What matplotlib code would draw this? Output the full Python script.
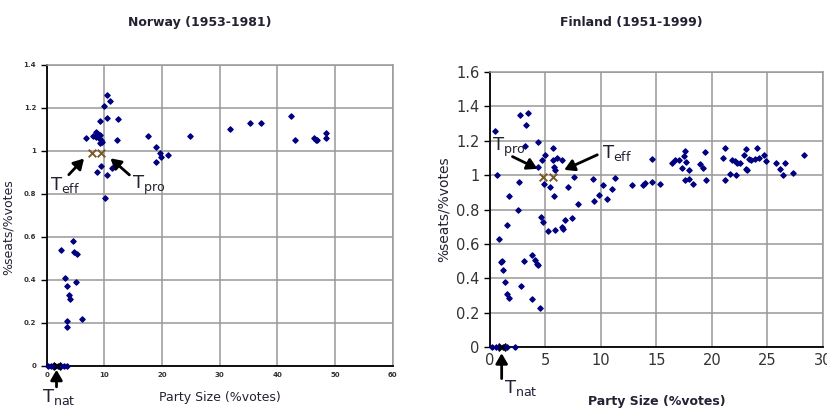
import numpy as np
import matplotlib
matplotlib.use('Agg')
import matplotlib.pyplot as plt

# Norway (1953-1981): party size (%votes) vs %seats/%votes
nor_x = [10.5, 11.0, 9.9, 10.4, 12.4, 9.2, 6.8, 8.0, 8.6, 8.9, 8.7, 9.0, 8.5, 9.2, 9.4,
         9.2, 9.6, 12.2, 17.6, 18.9, 19.6, 19.9, 21.1, 19.0, 24.8, 31.7, 35.3, 37.2,
         42.4, 43.0, 46.3, 46.6, 46.9, 48.4, 48.4, 8.7, 9.5, 10.5, 11.3, 10.1,
         2.4, 4.5, 4.7, 5.2, 3.2, 3.6, 5.1, 3.9, 4.0, 3.5, 3.5, 6.1,
         0.3, 0.7, 1.1, 1.5, 2.0, 2.5, 3.0, 3.5]
nor_y = [1.26, 1.23, 1.21, 1.155, 1.15, 1.14, 1.06, 1.07, 1.09, 1.08, 1.07, 1.06, 1.065, 1.075, 1.05,
         1.035, 1.04, 1.05, 1.07, 1.02, 0.99, 0.97, 0.98, 0.95, 1.07, 1.10, 1.13, 1.13,
         1.16, 1.05, 1.06, 1.05, 1.05, 1.085, 1.06, 0.90, 0.93, 0.89, 0.92, 0.78,
         0.54, 0.58, 0.53, 0.52, 0.41, 0.37, 0.39, 0.33, 0.31, 0.21, 0.18, 0.22,
         0, 0, 0, 0, 0, 0, 0, 0]

# Finland (1951-1999)
fin_x = [0.45, 0.6, 0.84, 1.0, 1.05, 1.14, 1.35, 1.56, 1.71, 1.74, 1.5, 2.55, 2.64, 2.7,
         3.4, 3.2, 3.16, 3.1, 2.8, 3.76, 4.06, 4.27, 4.36, 3.76, 4.5, 4.3, 4.36, 4.66,
         4.96, 5.65, 5.7, 6.0, 6.46, 5.77, 5.86, 4.87, 5.4, 5.77, 7.6, 7.06, 7.96,
         4.6, 4.8, 5.2, 5.86, 6.46, 6.55, 6.8, 7.36, 9.26, 9.38, 9.83, 10.16, 10.5,
         10.97, 11.27, 12.8, 13.8, 14.0, 14.6, 14.6, 15.3, 16.4, 16.7, 17.0, 17.6,
         17.5, 17.7, 17.3, 17.97, 17.6, 17.9, 18.3, 18.9, 19.2, 19.4, 19.45, 21.04,
         21.2, 21.2, 21.6, 21.8, 22.1, 22.2, 22.3, 22.5, 22.9, 23.1, 23.1, 23.2,
         23.3, 23.5, 23.9, 24.1, 24.2, 24.7, 24.9, 25.8, 26.1, 26.4, 26.6, 27.3, 28.3,
         0.2, 0.5, 0.8, 1.2, 1.5, 2.25]
fin_y = [1.255, 1.003, 0.63, 0.495, 0.5, 0.446, 0.378, 0.306, 0.287, 0.879, 0.708, 0.795, 0.96, 1.348,
         1.36, 1.29, 1.17, 0.5, 0.355, 0.537, 0.505, 0.485, 0.475, 0.277, 0.227, 1.19, 1.05, 1.09,
         1.12, 1.16, 1.09, 1.10, 1.09, 1.047, 1.03, 0.95, 0.93, 0.88, 0.99, 0.93, 0.83,
         0.756, 0.727, 0.673, 0.683, 0.698, 0.689, 0.737, 0.752, 0.98, 0.848, 0.882, 0.94, 0.86,
         0.92, 0.983, 0.94, 0.94, 0.956, 1.096, 0.96, 0.95, 1.07, 1.086, 1.086, 1.14,
         1.11, 1.076, 1.04, 1.03, 0.97, 0.98, 0.95, 1.063, 1.04, 1.135, 0.97, 1.10,
         1.158, 0.97, 1.005, 1.086, 1.082, 0.999, 1.072, 1.07, 1.115, 1.154, 1.038, 1.028,
         1.096, 1.09, 1.096, 1.16, 1.10, 1.115, 1.082, 1.07, 1.034, 0.999, 1.07, 1.01, 1.115,
         0, 0, 0, 0, 0, 0]

# threshold markers (x, y)
nor_teff = (7.9, 0.99)
nor_tpro = (9.4, 0.99)
nor_tnat = (1.7, 0.0)
fin_tpro = (4.8, 0.99)
fin_teff = (5.7, 0.99)
fin_tnat = (1.05, 0.0)

NAVY = '#000080'
XCOL = '#7a5a2a'
TXT = '#222233'


def style_axes(ax, xmax, xstep, ymax, ystep, tick_fs, tick_bold):
    ax.set_xlim(0, xmax)
    ax.set_ylim(0, ymax)
    ax.set_xticks(np.arange(0, xmax + 0.001, xstep))
    ax.set_yticks(np.round(np.arange(0, ymax + 0.001, ystep), 1))
    ax.yaxis.set_major_formatter(matplotlib.ticker.FuncFormatter(lambda v, p: '%g' % v))
    ax.grid(True, color='#999999', lw=1.1)
    ax.set_axisbelow(True)
    for s in ['top', 'right']:
        ax.spines[s].set_color('#999999')
        ax.spines[s].set_linewidth(1.1)
    for s in ['left', 'bottom']:
        ax.spines[s].set_color('black')
        ax.spines[s].set_linewidth(1.3)
    ax.tick_params(axis='both', direction='out', length=4, width=1, colors='black',
                   labelsize=tick_fs, labelcolor='#333333')
    ax.tick_params(axis='x', length=0, pad=4)
    if tick_bold:
        for lab in ax.get_xticklabels() + ax.get_yticklabels():
            lab.set_fontweight('bold')


fig = plt.figure(figsize=(8.28, 4.08), dpi=100)
arr = dict(arrowstyle='-|>,head_width=0.35,head_length=0.6', color='black', lw=2)

# ---- Norway
ax1 = fig.add_axes([0.0564, 0.103, 0.418, 0.738])
ax1.scatter(nor_x, nor_y, marker='D', s=7, color=NAVY, zorder=3, clip_on=False)
style_axes(ax1, 60, 10, 1.4, 0.2, 5, True)
fig.text(0.241, 0.945, 'Norway (1953-1981)', fontsize=9, fontweight='bold',
         color=TXT, ha='center', va='center')
ax1.set_xlabel('Party Size (%votes)', fontsize=9, color=TXT, labelpad=10)
ax1.set_ylabel('%seats/%votes', fontsize=9, color=TXT)
ax1.yaxis.set_label_coords(-0.092, 0.46)
for p in [nor_teff, nor_tpro]:
    ax1.scatter(*p, marker='x', s=30, color=XCOL, lw=1.4, zorder=4)
ax1.scatter(*nor_tnat, marker='x', s=30, color='black', lw=1.4, zorder=4, clip_on=False)
ax1.annotate('', xy=(6.8, 0.974), xytext=(3.5, 0.88), arrowprops=arr)
ax1.annotate('', xy=(10.7, 0.974), xytext=(14.7, 0.88), arrowprops=arr)
ax1.text(0.5, 0.84, r'T$_{\mathregular{eff}}$', fontsize=13, color=TXT, va='center')
ax1.text(14.8, 0.84, r'T$_{\mathregular{pro}}$', fontsize=13, color=TXT, va='center')
ax1.annotate('', xy=(nor_tnat[0], -0.005), xytext=(nor_tnat[0], -0.11),
             arrowprops=arr, annotation_clip=False)
ax1.text(-0.8, -0.145, r'T$_{\mathregular{nat}}$', fontsize=13, color=TXT, va='center', clip_on=False)

# ---- Finland
ax2 = fig.add_axes([0.5918, 0.1495, 0.402, 0.674])
ax2.scatter(fin_x, fin_y, marker='D', s=7, color=NAVY, zorder=3, clip_on=False)
style_axes(ax2, 30, 5, 1.6, 0.2, 10.5, False)
fig.text(0.762, 0.945, 'Finland (1951-1999)', fontsize=9, fontweight='bold',
         color=TXT, ha='center', va='center')
ax2.set_xlabel('Party Size (%votes)', fontsize=9, fontweight='bold', color=TXT, labelpad=20)
ax2.set_ylabel('%seats/%votes', fontsize=10, color=TXT, labelpad=4)
for p in [fin_tpro, fin_teff]:
    ax2.scatter(*p, marker='x', s=30, color=XCOL, lw=1.4, zorder=4)
ax2.scatter(*fin_tnat, marker='x', s=30, color='black', lw=1.4, zorder=4, clip_on=False)
ax2.annotate('', xy=(4.5, 1.03), xytext=(1.8, 1.115), arrowprops=arr)
ax2.annotate('', xy=(6.46, 1.024), xytext=(9.9, 1.125), arrowprops=arr)
ax2.text(0.2, 1.16, r'T$_{\mathregular{pro}}$', fontsize=13, color=TXT, va='center')
ax2.text(10.1, 1.13, r'T$_{\mathregular{eff}}$', fontsize=13, color=TXT, va='center')
ax2.annotate('', xy=(fin_tnat[0], -0.02), xytext=(fin_tnat[0], -0.2),
             arrowprops=arr, annotation_clip=False)
ax2.text(1.3, -0.24, r'T$_{\mathregular{nat}}$', fontsize=13, color=TXT, va='center', clip_on=False)

fig.savefig('out.png', dpi=100)
